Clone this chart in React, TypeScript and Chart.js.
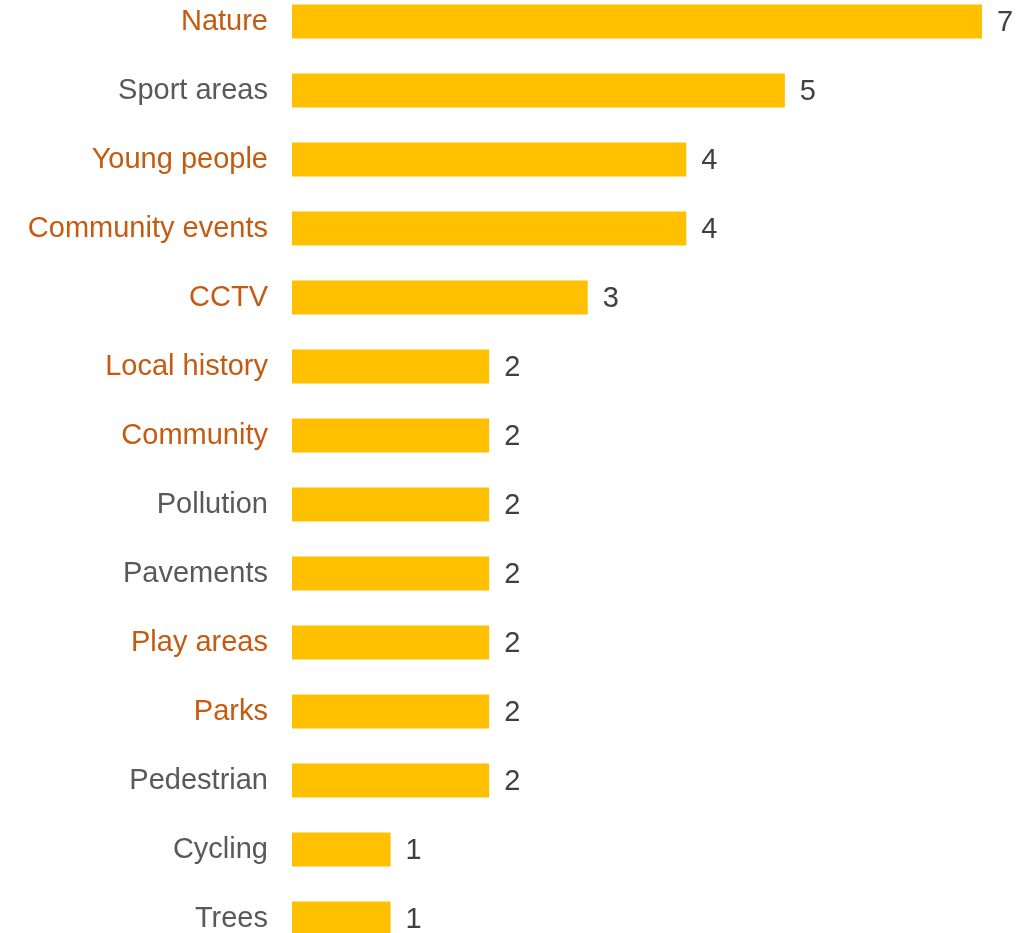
import React, { useEffect, useRef } from "react";
import { Chart, registerables } from "chart.js";

Chart.register(...registerables);

const categories = [
  "Nature",
  "Sport areas",
  "Young people",
  "Community events",
  "CCTV",
  "Local history",
  "Community",
  "Pollution",
  "Pavements",
  "Play areas",
  "Parks",
  "Pedestrian",
  "Cycling",
  "Trees",
];
const values = [7, 5, 4, 4, 3, 2, 2, 2, 2, 2, 2, 2, 1, 1];
const highlighted = [true, false, true, true, true, true, true, false, false, true, true, false, false, false];

const ORANGE = "#C55A11";
const GRAY = "#595959";
const BAR = "#FFC000";
const VALUE_COLOR = "#404040";
const FONT = "'Liberation Sans', Arial, sans-serif";

const valueLabels = {
  id: "valueLabels",
  afterDatasetsDraw(chart: any) {
    const ctx = chart.ctx;
    const meta = chart.getDatasetMeta(0);
    ctx.save();
    ctx.font = `29px ${FONT}`;
    ctx.fillStyle = VALUE_COLOR;
    ctx.textAlign = "left";
    ctx.textBaseline = "middle";
    meta.data.forEach((bar: any, i: number) => {
      ctx.fillText(String(values[i]), bar.x + 15, bar.y + 1);
    });
    ctx.restore();
  },
};

export default function App() {
  const ref = useRef<HTMLCanvasElement | null>(null);
  useEffect(() => {
    document.body.style.margin = "0";
    document.body.style.overflow = "hidden";
    const chart = new Chart(ref.current as HTMLCanvasElement, {
      type: "bar",
      data: {
        labels: categories,
        datasets: [
          {
            data: values,
            backgroundColor: BAR,
            borderWidth: 0,
            barPercentage: 0.98,
            categoryPercentage: 0.5,
          },
        ],
      },
      options: {
        indexAxis: "y",
        animation: false,
        responsive: false,
        maintainAspectRatio: false,
        layout: { padding: { left: 0, right: 46, top: 0, bottom: 0 } },
        plugins: { legend: { display: false }, tooltip: { enabled: false } },
        scales: {
          x: {
            display: false,
            min: 0,
            max: 7,
          },
          y: {
            grid: { display: false, drawTicks: false },
            border: { display: false },
            afterFit: (scale: any) => {
              scale.width = 292;
              scale.paddingTop = 0;
              scale.paddingBottom = 0;
            },
            ticks: {
              padding: 24,
              autoSkip: false,
              font: { size: 29, family: FONT },
              color: (c: any) => (highlighted[c.index] ? ORANGE : GRAY),
            },
          },
        },
      },
      plugins: [valueLabels],
    });
    return () => chart.destroy();
  }, []);
  return (
    <div style={{ position: "fixed", left: 0, top: -13, width: 1028, height: 966 }}>
      <canvas ref={ref} width={1028} height={966} style={{ width: 1028, height: 966 }} />
    </div>
  );
}
